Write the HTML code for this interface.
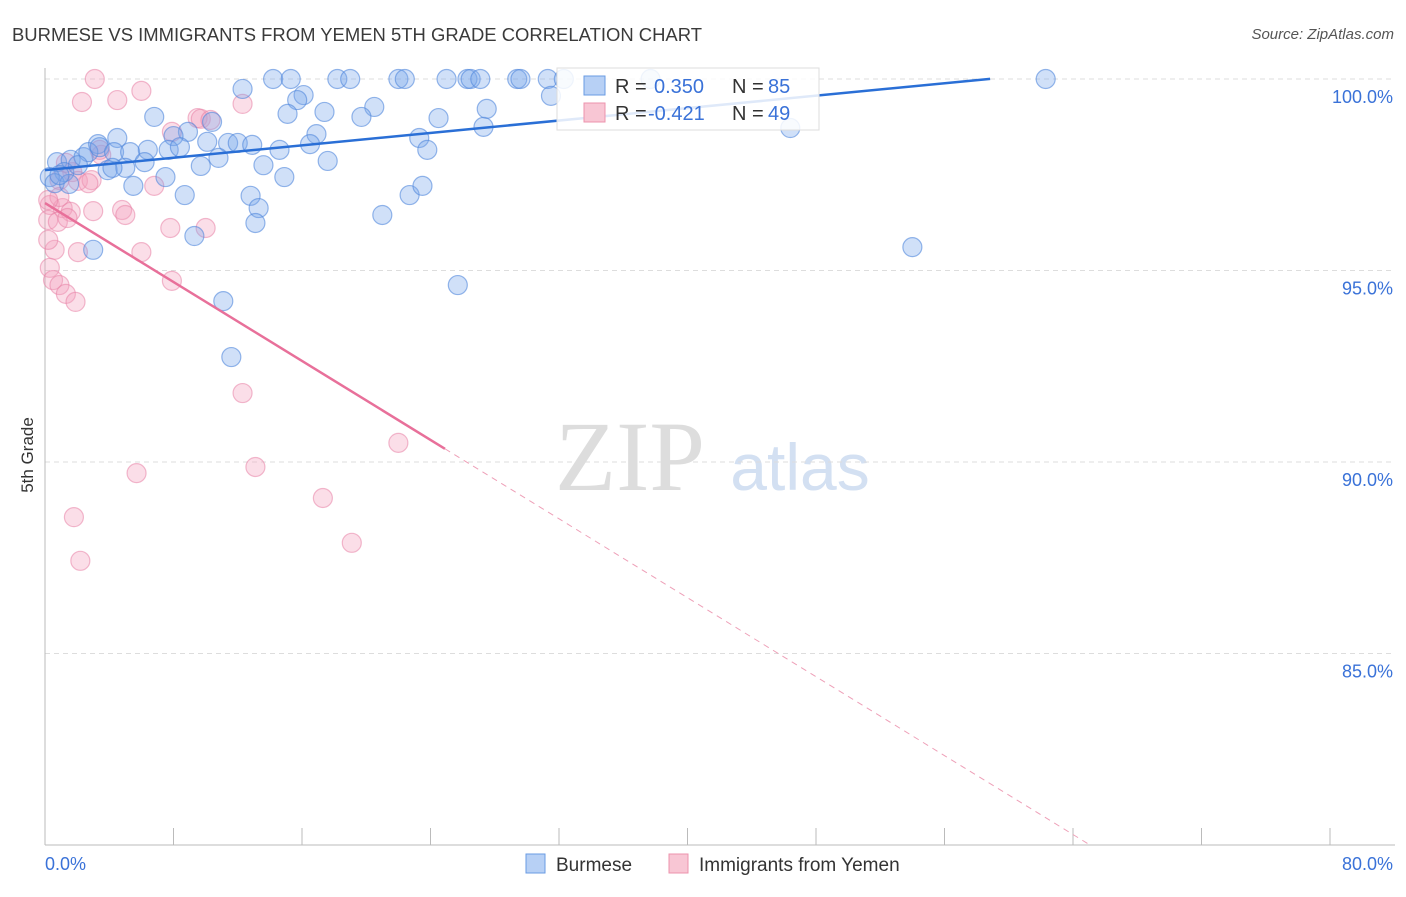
<!DOCTYPE html>
<html><head><meta charset="utf-8"><style>
body{margin:0;background:#fff;font-family:"Liberation Sans",sans-serif}
</style></head><body>
<svg id="c" width="1406" height="892" xmlns="http://www.w3.org/2000/svg">
<text x="12" y="41" font-size="18" fill="#3a3a3a" textLength="690" lengthAdjust="spacingAndGlyphs">BURMESE VS IMMIGRANTS FROM YEMEN 5TH GRADE CORRELATION CHART</text>
<text x="1394" y="39" font-size="15" fill="#555" font-style="italic" text-anchor="end">Source: ZipAtlas.com</text>
<text x="33" y="455" font-size="17" fill="#333" text-anchor="middle" transform="rotate(-90 33 455)">5th Grade</text>
<text x="630" y="490" font-size="100" fill="#ddd" font-family="Liberation Serif" text-anchor="middle">ZIP</text>
<text x="800" y="490" font-size="66" fill="#d3e0f2" text-anchor="middle">atlas</text>
<g id="grid"></g><g id="axes"></g><g id="pts"></g><g id="lines"></g>
<g>
<rect x="557" y="68" width="262" height="62" fill="#fff" fill-opacity="0.85" stroke="#ddd"/>
<rect x="584" y="76" width="21" height="19" fill="#b7d0f5" stroke="#6a9be3"/>
<text x="615" y="93" font-size="20" fill="#333">R = </text><text x="654" y="93" font-size="20" fill="#3a72d8">0.350</text>
<text x="732" y="93" font-size="20" fill="#333">N = </text><text x="768" y="93" font-size="20" fill="#3a72d8">85</text>
<rect x="584" y="103" width="21" height="19" fill="#f8c6d4" stroke="#ec93ad"/>
<text x="615" y="120" font-size="20" fill="#333">R = </text><text x="648" y="120" font-size="20" fill="#3a72d8">-0.421</text>
<text x="732" y="120" font-size="20" fill="#333">N = </text><text x="768" y="120" font-size="20" fill="#3a72d8">49</text>
</g>
<g>
<rect x="526" y="854" width="19" height="19" fill="#b7d0f5" stroke="#6a9be3"/>
<text x="556" y="871" font-size="19" fill="#333">Burmese</text>
<rect x="669" y="854" width="19" height="19" fill="#f8c6d4" stroke="#ec93ad"/>
<text x="699" y="871" font-size="19" fill="#333">Immigrants from Yemen</text>
</g>
</svg>
<script>
const yTicks=[100,95,90,85];
const yTickLabels=["100.0%","95.0%","90.0%","85.0%"];
const xTicks=[0,8,16,24,32,40,48,56,64,72,80];
const blueX=[14.2,15.3,18.2,19.0,22.0,22.4,25.0,26.3,26.5,27.1,29.4,29.6,31.3,32.3,37.7,62.3,12.3,16.1,15.7,31.5,20.5,27.5,17.4,15.1,6.8,19.7,24.5,10.4,27.3,46.4,16.9,8.9,8.0,4.5,23.3,3.3,0.75,1.6,2.4,2.7,3.4,4.3,5.3,6.4,7.7,8.4,10.1,11.4,12.0,12.9,14.6,16.5,23.8,1.2,3.9,5.0,6.2,9.7,10.8,13.6,17.6,0.3,0.6,1.5,5.5,7.5,14.9,8.7,12.8,13.3,13.1,21.0,22.7,23.5,9.3,3.0,54.0,25.7,11.1,11.6,0.9,2.05,4.2];
const blueY=[100,100,100,100,100,100,100,100,100,100,100,100,100,100,100,100,99.74,99.58,99.45,99.56,99.27,99.22,99.14,99.09,99.01,99.01,98.98,98.88,98.75,98.72,98.56,98.62,98.51,98.46,98.46,98.30,97.83,97.89,97.96,98.09,98.22,98.09,98.09,98.15,98.15,98.22,98.36,98.33,98.33,98.28,98.15,98.30,98.15,97.57,97.62,97.68,97.83,97.73,97.94,97.75,97.86,97.44,97.28,97.26,97.21,97.44,97.44,96.97,96.95,96.63,96.24,96.45,96.97,97.21,95.90,95.54,95.61,94.62,94.20,92.74,97.49,97.75,97.68];
const pinkX=[3.1,2.3,4.5,6.0,12.3,9.5,9.7,7.9,3.5,3.4,1.7,2.05,2.9,6.8,0.9,0.3,1.1,1.6,0.2,0.8,1.4,3.0,4.8,5.0,0.6,2.05,6.0,7.8,10.0,0.2,0.3,0.5,0.9,1.3,1.9,7.9,12.3,22.0,5.7,13.1,17.3,19.1,1.8,2.2,1.3,0.9,2.7,0.2,10.3];
const pinkY=[100,99.4,99.45,99.69,99.35,98.98,98.96,98.62,98.02,98.15,97.57,97.34,97.36,97.21,97.36,96.71,96.63,96.53,96.32,96.27,96.37,96.55,96.58,96.45,95.54,95.48,95.48,96.11,96.11,95.80,95.07,94.75,94.62,94.39,94.18,94.73,91.80,90.50,89.71,89.87,89.06,87.89,88.56,87.42,97.81,96.92,97.28,96.84,98.93];
const blueLine=[97.62,0.0405,0,58.84];
const pinkLine=[96.76,-0.2576,0,24.9,65.07];
const NS="http://www.w3.org/2000/svg";
const X=v=>45+v*16.0625, Y=v=>79+(100-v)*38.3;
function mk(tag,attrs,parent){const e=document.createElementNS(NS,tag);for(const k in attrs)e.setAttribute(k,attrs[k]);document.getElementById(parent).appendChild(e);return e;}
yTicks.forEach((t,i)=>{
 const l=mk('line',{x1:45,x2:1395,y1:Y(t),y2:Y(t),stroke:'#ddd','stroke-dasharray':'5,4'},'grid');
 
 
 const tx=mk('text',{x:1393,y:Y(t)+24,'font-size':18,fill:'#3a72d8','text-anchor':'end'},'grid');
 tx.textContent=yTickLabels[i];
 
 
});
const ax=mk('line',{x1:45,x2:45,y1:68,y2:845,stroke:'#bbb'},'axes');


const bx=mk('line',{x1:45,x2:1395,y1:845,y2:845,stroke:'#bbb'},'axes');


xTicks.forEach(t=>{
 const l=mk('line',{x1:X(t),x2:X(t),y1:828,y2:845,stroke:'#bbb'},'axes');
 
 
});
const xl=mk('text',{x:45,y:870,'font-size':18,fill:'#3a72d8'},'axes');xl.textContent='0.0%';


const xr=mk('text',{x:1393,y:870,'font-size':18,fill:'#3a72d8','text-anchor':'end'},'axes');xr.textContent='80.0%';


pinkX.forEach((v,i)=>{
 const c=mk('circle',{cx:X(v),cy:Y(pinkY[i]),r:9.5,fill:'rgba(244,160,188,0.35)',stroke:'rgba(232,130,165,0.55)','stroke-width':1.2},'pts');
 
 
});
blueX.forEach((v,i)=>{
 const c=mk('circle',{cx:X(v),cy:Y(blueY[i]),r:9.5,fill:'rgba(120,165,235,0.35)',stroke:'rgba(80,135,220,0.6)','stroke-width':1.2},'pts');
 
 
});
const bl=mk('line',{x1:X(blueLine[2]),y1:Y(blueLine[0]+blueLine[1]*blueLine[2]),x2:X(blueLine[3]),y2:Y(blueLine[0]+blueLine[1]*blueLine[3]),stroke:'#2a6fd6','stroke-width':2.5},'lines');


const pl=mk('line',{x1:X(pinkLine[2]),y1:Y(pinkLine[0]+pinkLine[1]*pinkLine[2]),x2:X(pinkLine[3]),y2:Y(pinkLine[0]+pinkLine[1]*pinkLine[3]),stroke:'#e8709a','stroke-width':2.5},'lines');


const pd=mk('line',{x1:X(pinkLine[3]),y1:Y(pinkLine[0]+pinkLine[1]*pinkLine[3]),x2:X(pinkLine[4]),y2:Y(pinkLine[0]+pinkLine[1]*pinkLine[4]),stroke:'#eea0b8','stroke-width':1,'stroke-dasharray':'6,5'},'lines');


</script>
</body></html>
